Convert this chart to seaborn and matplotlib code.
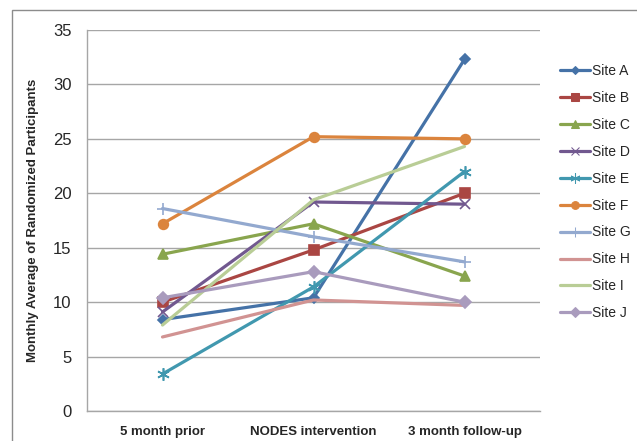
import numpy as np
import pandas as pd
import matplotlib
matplotlib.use("Agg")
import matplotlib.pyplot as plt
import matplotlib.patches as mpatches
import seaborn as sns

# data
periods = ["5 month prior", "NODES intervention", "3 month follow-up"]
sites = ["Site A", "Site B", "Site C", "Site D", "Site E",
         "Site F", "Site G", "Site H", "Site I", "Site J"]
site_a = [8.4, 10.4, 32.3]
site_b = [10.0, 14.8, 20.0]
site_c = [14.4, 17.2, 12.4]
site_d = [9.1, 19.2, 19.0]
site_e = [3.4, 11.4, 22.0]
site_f = [17.2, 25.2, 25.0]
site_g = [18.6, 16.0, 13.7]
site_h = [6.8, 10.2, 9.7]
site_i = [7.9, 19.4, 24.3]
site_j = [10.4, 12.8, 10.0]
values = [site_a, site_b, site_c, site_d, site_e,
          site_f, site_g, site_h, site_i, site_j]

colors = ["#4572A7", "#AA4643", "#89A54E", "#71588F", "#4198AF",
          "#DB843D", "#93A9CF", "#D19392", "#B9CD96", "#A99BBD"]
markers = ["D", "s", "^", "x", (6, 2, 0), "o", "+", "", "", "D"]
msizes = [5, 7, 7, 7, 9, 7, 9, 0, 0, 6]

rows = []
for s, vals in zip(sites, values):
    for p, v in zip(periods, vals):
        rows.append({"Period": p, "Site": s, "Value": v})
df = pd.DataFrame(rows)

sns.set_style("white")
plt.rcParams["font.family"] = ["Liberation Sans", "DejaVu Sans"]

fig = plt.figure(figsize=(6.37, 4.41), dpi=100)
ax = fig.add_axes([87 / 637, 1 - 411 / 441, (540 - 87) / 637, (411 - 30) / 441])

sns.lineplot(data=df, x="Period", y="Value", hue="Site", style="Site",
             hue_order=sites, style_order=sites,
             palette=dict(zip(sites, colors)),
             markers=dict(zip(sites, ["o"] * len(sites))),
             dashes=False, linewidth=2.3, ax=ax, sort=False)

# tune markers per series
for line, m, ms, c in zip(ax.lines, markers, msizes, colors):
    if m == "":
        line.set_marker("")
    else:
        line.set_marker(m)
        line.set_markersize(ms)
        line.set_markerfacecolor(c)
        line.set_markeredgecolor(c)
        line.set_markeredgewidth(1.2)

ax.set_xlim(-0.5, 2.5)
ax.set_ylim(0, 35)
ax.set_yticks(np.arange(0, 36, 5))
ax.yaxis.grid(True, color="#a6a6a6", linewidth=1)
ax.set_axisbelow(True)
for side in ["top", "right"]:
    ax.spines[side].set_visible(False)
for side in ["left", "bottom"]:
    ax.spines[side].set_color("#a6a6a6")
    ax.spines[side].set_linewidth(1)

ax.set_xticks([0, 1, 2])
ax.set_xticklabels(periods, fontsize=9.5, fontweight="bold")
ax.set_xticks([-0.5, 0.5, 1.5, 2.5], minor=True)
ax.tick_params(axis="x", which="major", length=0, pad=11)
ax.tick_params(axis="x", which="minor", length=5, color="#a6a6a6", direction="out")
ax.tick_params(axis="y", length=5, color="#a6a6a6", direction="out", labelsize=12, pad=6)
ax.set_xlabel("")
ax.set_ylabel("Monthly Average of Randomized Participants",
              fontsize=9.5, fontweight="bold", labelpad=10)

handles, labels = ax.get_legend_handles_labels()
for h, m, ms, c in zip(handles, markers, msizes, colors):
    h.set_marker(m if m else "")
    h.set_markersize(ms * 0.8)
    h.set_markerfacecolor(c)
    h.set_markeredgecolor(c)
    h.set_linewidth(2.3)
ax.legend(handles, labels, loc="upper left", bbox_to_anchor=(560 / 637, 1 - 64 / 441),
          bbox_transform=fig.transFigure, frameon=False, fontsize=10,
          handlelength=2.15, handletextpad=0.15, labelspacing=0.93, borderaxespad=0,
          borderpad=0)

# chart area outline (only top and left edges visible in the reference)
fig.add_artist(mpatches.Rectangle((12 / 637, -0.1), 1.2, 1 - 10 / 441 + 0.1,
                                  transform=fig.transFigure, fill=False,
                                  edgecolor="#8c8c8c", linewidth=1))

fig.savefig("out.png", dpi=100)
